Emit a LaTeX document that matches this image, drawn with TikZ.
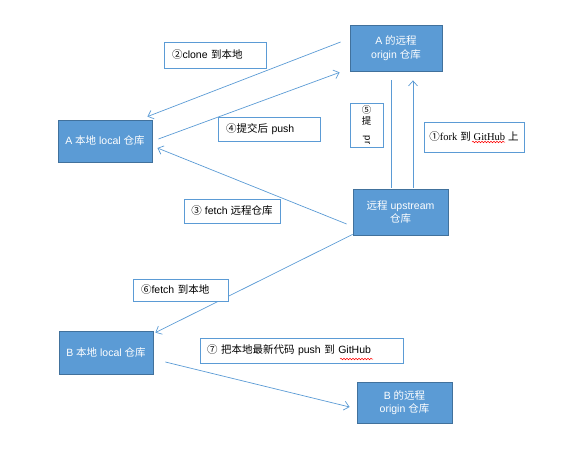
\documentclass[tikz,border=0pt]{standalone}
\usepackage{fontspec}
\setmainfont{Liberation Sans}
\newfontfamily\cjk{Noto Sans CJK SC}
\newfontfamily\serifl{Liberation Serif}
\usetikzlibrary{arrows.meta,decorations.pathmorphing}
\definecolor{boxfill}{HTML}{5B9BD5}
\definecolor{boxedge}{HTML}{41719C}
\definecolor{lineblue}{HTML}{5B9BD5}
\begin{document}
\begin{tikzpicture}[x=1pt,y=-1pt,
  repo/.style={draw=boxedge, fill=boxfill, line width=0.8pt, text=white, align=center,
    font=\fontsize{10.5}{13.5}\selectfont, inner sep=0pt},
  tag/.style={draw=lineblue, fill=white, line width=0.8pt, font=\fontsize{10.5}{12}\selectfont,
    inner xsep=8pt, inner ysep=0pt, align=left},
  ctag/.style={draw=lineblue, fill=white, line width=0.8pt, font=\fontsize{10.5}{12}\selectfont,
    inner sep=0pt},
  conn/.style={draw=lineblue, line width=0.7pt, -{Straight Barb[length=5pt,width=9pt]}},
  plain/.style={draw=lineblue, line width=0.7pt},
  wavy/.style={draw=red, line width=0.5pt, decorate,
    decoration={snake, segment length=3pt, amplitude=0.8pt}},
]
\useasboundingbox (0,0) rectangle (561,463);

% repositories
\node[repo, minimum width=92pt, minimum height=46pt] (Ar) at (396,48)
  {A {\cjk 的远程}\\origin {\cjk 仓库}};
\node[repo, minimum width=94pt, minimum height=42pt] (Al) at (105,141)
  {A {\cjk 本地} local {\cjk 仓库}};
\node[repo, minimum width=95pt, minimum height=46pt] (Up) at (400.5,212)
  {{\cjk 远程} upstream\\{\cjk 仓库}};
\node[repo, minimum width=94pt, minimum height=43pt] (Bl) at (106,352.5)
  {B {\cjk 本地} local {\cjk 仓库}};
\node[repo, minimum width=95pt, minimum height=41pt] (Br) at (404.5,402.5)
  {B {\cjk 的远程}\\origin {\cjk 仓库}};

% connectors
\draw[conn] ([shift={(-9,-6)}]Ar.west) -- ([shift={(-5,-3)}]Al.north east);
\draw[conn] ([shift={(6,-2)}]Al.east) -- ([shift={(-10,1)}]Ar.south west);
\draw[plain] ([shift={(-9.5,-1)}]Up.north) -- ([shift={(-5,9)}]Ar.south);
\draw[conn] ([shift={(12.5,-1)}]Up.north) -- ([shift={(17,9)}]Ar.south);
\draw[conn] ([shift={(-6,12)}]Up.west) -- ([shift={(5,7)}]Al.east);
\draw[conn] ([shift={(0,-1)}]Up.south west) -- ([shift={(2,2)}]Bl.north east);
\draw[conn] ([shift={(12,9.5)}]Bl.east) -- ([shift={(-7,4.5)}]Br.west);

% labels
\node[tag, minimum height=26pt, text width=86pt] (L2) at (215,55)
  {{\cjk ②}clone {\cjk 到本地}};
\node[tag, minimum height=24pt, text width=86pt] (L4) at (269,129)
  {{\cjk ④提交后} push};
\node[ctag, minimum height=24pt, minimum width=96pt] (L3) at (232,211)
  {{\cjk ③} fetch {\cjk 远程仓库}};
\node[tag, minimum height=22pt, text width=79pt] (L6) at (180.5,290)
  {{\cjk ⑥}fetch {\cjk 到本地}};
\node[tag, minimum height=25pt, text width=189pt, inner xsep=7pt] (L7) at (301.5,350.5)
  {{\cjk ⑦} {\cjk 把本地最新代码} push {\cjk 到} GitHub};
\node[ctag, minimum height=30pt, minimum width=100pt] (L1) at (474,137)
  {{\cjk ①}{\serifl fork} {\cjk 到} {\serifl GitHub} {\cjk 上}};
\node[draw=lineblue, fill=white, line width=0.8pt, minimum width=33pt, minimum height=44pt,
  inner sep=0pt, align=center, font=\fontsize{9.5}{11}\selectfont] (L5) at (366.5,125)
  {{\cjk ⑤}\\{\cjk 提}\\\rotatebox{-90}{pr}};

% spell-check underlines
\draw[wavy] ([shift={(-2,5)}]L1.center) -- ([shift={(31,5)}]L1.center);
\draw[wavy] ([shift={(38.5,8.5)}]L7.center) -- ([shift={(71.5,8.5)}]L7.center);
\end{tikzpicture}
\end{document}
